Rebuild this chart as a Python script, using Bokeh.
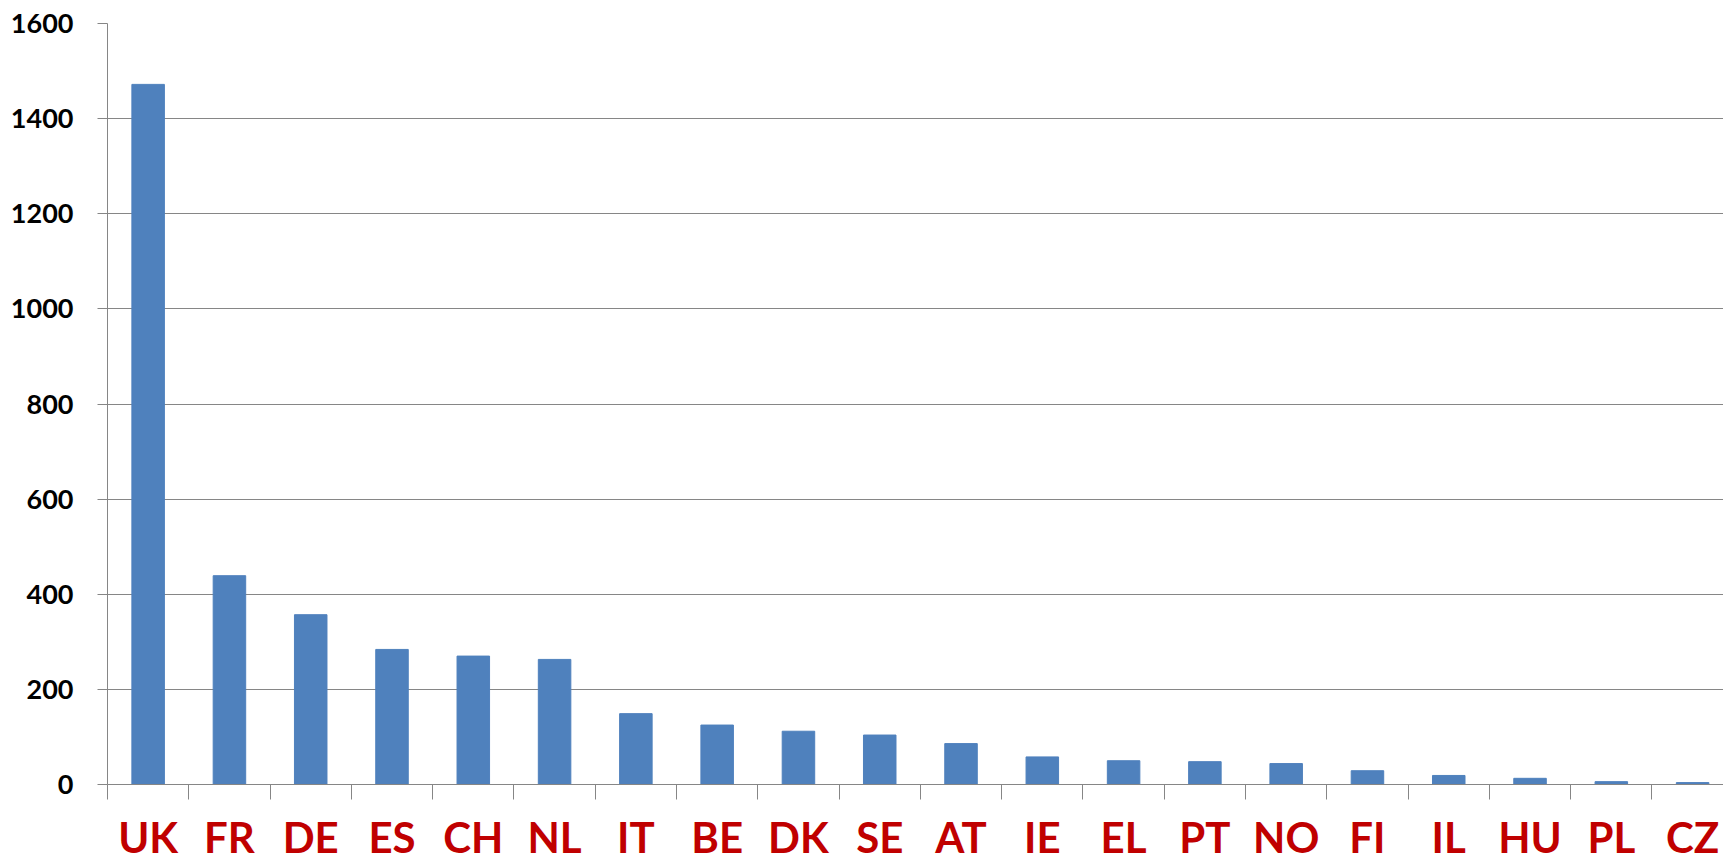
from bokeh.plotting import figure
from bokeh.models import Range1d, FixedTicker, LinearAxis
from bokeh.embed import file_html
from bokeh.resources import INLINE

countries = ["UK", "FR", "DE", "ES", "CH", "NL", "IT", "BE", "DK", "SE",
             "AT", "IE", "EL", "PT", "NO", "FI", "IL", "HU", "PL", "CZ"]
values = [1472, 439, 357, 284, 270, 263, 149, 125, 112, 104,
          86, 58, 50, 48, 44, 29, 19, 13, 6, 4]
y_ticks = [0, 200, 400, 600, 800, 1000, 1200, 1400, 1600]

positions = list(range(len(countries)))
boundaries = [i - 0.5 for i in range(len(countries) + 1)]

GRID = "#868686"

p = figure(width=1723, height=864, output_backend="svg", toolbar_location=None,
           x_range=Range1d(-0.5, 19.38), y_range=Range1d(0, 1600),
           x_axis_type=None,
           min_border_left=107, min_border_right=0, min_border_top=23,
           min_border_bottom=80)
p.outline_line_color = None
p.background_fill_color = "white"
p.border_fill_color = "white"

p.vbar(x=positions, top=values, width=0.4, fill_color="#4F81BD",
       line_color="#4F81BD", line_width=1)

# y axis
yax = p.yaxis[0]
yax.ticker = FixedTicker(ticks=y_ticks)
yax.axis_line_color = GRID
yax.major_tick_line_color = GRID
yax.major_tick_out = 10
yax.major_tick_in = 0
yax.minor_tick_line_color = None
yax.major_label_standoff = 24
yax.major_label_text_font = "Lato"
yax.major_label_text_font_style = "bold"
yax.major_label_text_font_size = "27px"
yax.major_label_text_color = "black"

p.ygrid.ticker = FixedTicker(ticks=y_ticks)
p.ygrid.grid_line_color = GRID
p.ygrid.grid_line_width = 1
p.xgrid.grid_line_color = None

# x axis with boundary ticks
ax_ticks = LinearAxis(ticker=FixedTicker(ticks=boundaries),
                      major_label_overrides={b: "" for b in boundaries},
                      major_label_text_font_size="0px",
                      major_label_standoff=0,
                      major_tick_out=15, major_tick_in=0,
                      major_tick_line_color=GRID,
                      axis_line_color=GRID,
                      minor_tick_line_color=None)
p.add_layout(ax_ticks, "below")

# x axis with category labels
ax_labels = LinearAxis(ticker=FixedTicker(ticks=positions),
                       major_label_overrides={i: c for i, c in zip(positions, countries)},
                       major_label_standoff=6,
                       major_tick_line_color=None,
                       axis_line_color=None,
                       minor_tick_line_color=None,
                       major_label_text_font="Lato",
                       major_label_text_font_style="bold",
                       major_label_text_font_size="42px",
                       major_label_text_color="#C00000")
p.add_layout(ax_labels, "below")

open("out.html", "w").write(file_html(p, INLINE))
